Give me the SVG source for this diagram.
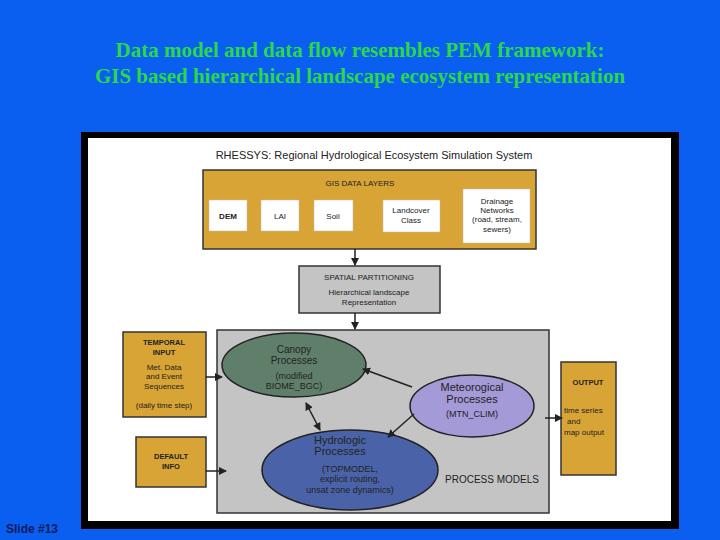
<svg xmlns="http://www.w3.org/2000/svg" width="720" height="540" viewBox="0 0 720 540">
<defs>
<marker id="ah" markerWidth="8" markerHeight="8" refX="7" refY="4" orient="auto" markerUnits="userSpaceOnUse"><path d="M0,0 L8,4 L0,8 z" fill="#222"/></marker>
<marker id="as" markerWidth="8" markerHeight="8" refX="1" refY="4" orient="auto" markerUnits="userSpaceOnUse"><path d="M8,0 L0,4 L8,8 z" fill="#222"/></marker>
</defs>
<style>
.t{font-family:"Liberation Serif",serif;font-size:21px;font-weight:bold;fill:#2ad84a;text-anchor:middle}
.s{font-family:"Liberation Sans",sans-serif;fill:#222;text-anchor:middle}
.org{fill:#d8a435;stroke:#333;stroke-width:1.5}
.wb{fill:#fff;stroke:#bbb;stroke-width:0.5}
.ln{stroke:#222;stroke-width:1.5;fill:none}
</style>
<rect width="720" height="540" fill="#0b5ff0"/>
<text class="t" x="360" y="57">Data model and data flow resembles PEM framework:</text>
<text class="t" x="360" y="83">GIS based hierarchical landscape ecosystem representation</text>
<rect x="81" y="132" width="598" height="397" fill="#000"/>
<rect x="88" y="138" width="583" height="383" fill="#fff"/>
<text class="s" x="374" y="159" font-size="11">RHESSYS: Regional Hydrological Ecosystem Simulation System</text>
<g id="gis">
<rect class="org" x="203" y="170" width="333" height="79"/>
<text class="s" x="360" y="186" font-size="8">GIS DATA LAYERS</text>
</g>
<g id="dem"><rect class="wb" x="209" y="200" width="38" height="31"/><text class="s" x="228" y="219" font-size="8" font-weight="bold">DEM</text></g>
<g id="lai"><rect class="wb" x="261" y="200" width="38" height="31"/><text class="s" x="280" y="219" font-size="8">LAI</text></g>
<g id="soil"><rect class="wb" x="314" y="200" width="39" height="31"/><text class="s" x="333" y="219" font-size="8">Soil</text></g>
<g id="landcover"><rect class="wb" x="383" y="200" width="57" height="32"/><text class="s" x="411" y="213" font-size="8">Landcover</text><text class="s" x="411" y="223" font-size="8">Class</text></g>
<g id="drainage"><rect class="wb" x="463" y="189" width="67" height="54"/><text class="s" x="497" y="204" font-size="8">Drainage</text><text class="s" x="497" y="213" font-size="8">Networks</text><text class="s" x="497" y="222" font-size="8">(road, stream,</text><text class="s" x="497" y="232" font-size="8">sewers)</text></g>
<g id="spatial">
<rect x="299" y="266" width="141" height="47" fill="#c4c4c4" stroke="#333" stroke-width="1.5"/>
<text class="s" x="369" y="280" font-size="8">SPATIAL PARTITIONING</text>
<text class="s" x="369" y="295" font-size="8">Hierarchical landscape</text>
<text class="s" x="369" y="305" font-size="8">Representation</text>
</g>
<g id="process">
<rect x="217" y="330" width="332" height="183" fill="#c4c4c4" stroke="#333" stroke-width="1.5"/>
<text class="s" x="492" y="483" font-size="10">PROCESS MODELS</text>
</g>
<g id="temporal">
<rect class="org" x="123" y="332" width="83" height="85"/>
<text class="s" x="164" y="345" font-size="7.5" font-weight="bold">TEMPORAL</text>
<text class="s" x="164" y="355" font-size="7.5" font-weight="bold">INPUT</text>
<text class="s" x="164" y="370" font-size="8">Met. Data</text>
<text class="s" x="164" y="379" font-size="8">and Event</text>
<text class="s" x="164" y="389" font-size="8">Sequences</text>
<text class="s" x="164" y="408" font-size="8">(daily time step)</text>
</g>
<g id="default">
<rect class="org" x="136" y="437" width="70" height="50"/>
<text class="s" x="171" y="459" font-size="7.5" font-weight="bold">DEFAULT</text>
<text class="s" x="171" y="469" font-size="7.5" font-weight="bold">INFO</text>
</g>
<g id="output">
<rect class="org" x="561" y="362" width="55" height="113"/>
<text class="s" x="588" y="385" font-size="7.5" font-weight="bold">OUTPUT</text>
<text x="564" y="413" font-family="Liberation Sans,sans-serif" font-size="8" fill="#222">time series</text>
<text x="567" y="424" font-family="Liberation Sans,sans-serif" font-size="8" fill="#222">and</text>
<text x="564" y="435" font-family="Liberation Sans,sans-serif" font-size="8" fill="#222">map output</text>
</g>
<g id="canopy">
<ellipse cx="294" cy="365" rx="72" ry="32" fill="#5f7f6b" stroke="#222" stroke-width="1.5"/>
<text class="s" x="294" y="353" font-size="10">Canopy</text>
<text class="s" x="294" y="364" font-size="10">Processes</text>
<text class="s" x="294" y="379" font-size="9">(modified</text>
<text class="s" x="294" y="389" font-size="9">BIOME_BGC)</text>
</g>
<g id="meteo">
<ellipse cx="472" cy="406" rx="62" ry="31" fill="#a59ad8" stroke="#222" stroke-width="1.5"/>
<text class="s" x="472" y="391" font-size="11">Meteorogical</text>
<text class="s" x="472" y="403" font-size="11">Processes</text>
<text class="s" x="472" y="417" font-size="9">(MTN_CLIM)</text>
</g>
<g id="hydro">
<ellipse cx="350" cy="470" rx="88" ry="40" fill="#4a63a8" stroke="#222" stroke-width="1.5"/>
<text class="s" x="340" y="444" font-size="11">Hydrologic</text>
<text class="s" x="340" y="455" font-size="11">Processes</text>
<text class="s" x="350" y="472" font-size="9">(TOPMODEL,</text>
<text class="s" x="350" y="482" font-size="9">explicit routing,</text>
<text class="s" x="350" y="493" font-size="9">unsat zone dynamics)</text>
</g>
<g id="connectors">
<line class="ln" x1="355" y1="249" x2="355" y2="265" marker-end="url(#ah)"/>
<line class="ln" x1="355" y1="313" x2="355" y2="329" marker-end="url(#ah)"/>
<line class="ln" x1="206" y1="377" x2="222" y2="377" marker-end="url(#ah)"/>
<line class="ln" x1="206" y1="471" x2="226" y2="471" marker-end="url(#ah)"/>
<line class="ln" x1="545" y1="418" x2="562" y2="418" marker-end="url(#ah)"/>
<line class="ln" x1="412" y1="387" x2="363" y2="369" marker-end="url(#ah)"/>
<line class="ln" x1="414" y1="414" x2="388" y2="437" marker-end="url(#ah)"/>
<line class="ln" x1="306" y1="403" x2="320" y2="430" marker-start="url(#as)" marker-end="url(#ah)"/>
</g>
<g id="slide"><text x="6" y="533" font-family="Liberation Sans,sans-serif" font-size="12" font-weight="bold" fill="#0a1a5a">Slide #13</text></g>
</svg>
